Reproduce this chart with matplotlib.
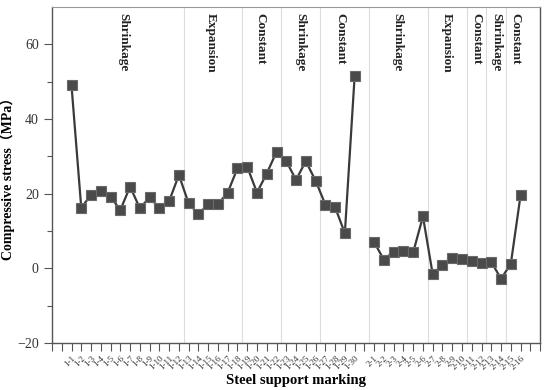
import numpy as np
import matplotlib
matplotlib.use("Agg")
import matplotlib.pyplot as plt

plt.rcParams['font.family'] = ['Liberation Serif', 'Noto Sans CJK SC', 'DejaVu Sans']

# group 1 (1-1 ... 1-30) and group 2 (2-1 ... 2-16)
labels_1 = ["1-%d" % k for k in range(1, 31)]
labels_2 = ["2-%d" % k for k in range(1, 17)]
stress_1 = [49.0, 16.2, 19.7, 20.6, 19.2, 15.6, 21.9, 16.1, 19.0, 16.1,
            18.0, 25.0, 17.4, 14.5, 17.2, 17.2, 20.3, 26.8, 27.2, 20.3,
            25.4, 31.2, 28.7, 23.7, 28.7, 23.5, 17.1, 16.4, 9.4, 51.4]
stress_2 = [7.0, 2.3, 4.5, 4.7, 4.3, 13.9, -1.6, 1.0, 2.7, 2.6,
            2.1, 1.3, 1.7, -2.8, 1.2, 19.6]

# phase boundaries (between tick slots) and phase names
boundaries = [12.5, 18.5, 22.5, 26.5, 31.5, 37.5, 41.5, 43.5, 45.5]
phase_names = ["Shrinkage", "Expansion", "Constant", "Shrinkage", "Constant",
               "Shrinkage", "Expansion", "Constant", "Shrinkage", "Constant"]
phase_pos = [6.3, 15.3, 20.3, 24.4, 28.5, 34.4, 39.4, 42.45, 44.5, 46.5]

# slot layout: blank, group 1, blank, group 2, blank
x1 = np.arange(1, 1 + len(stress_1))
x2 = np.arange(x1[-1] + 2, x1[-1] + 2 + len(stress_2))
tick_pos = np.arange(-1, 50)
tick_lab = [""] * len(tick_pos)
for x, lab in zip(x1, labels_1):
    tick_lab[x + 1] = lab
for x, lab in zip(x2, labels_2):
    tick_lab[x + 1] = lab

fig = plt.figure(figsize=(5.5, 3.9), dpi=100)
ax = fig.add_axes([0.0945, 0.1205, 0.8875, 0.8615])

for b in boundaries:
    ax.axvline(b, color="#dcdcdc", lw=0.8, zorder=0)

style = dict(color="#3a3a3a", lw=1.6, marker="s", markersize=6.5,
             markerfacecolor="#4a4a4a", markeredgecolor="#6a6a6a", markeredgewidth=0.8)
ax.plot(x1, stress_1, **style)
ax.plot(x2, stress_2, **style)

for name, xp in zip(phase_names, phase_pos):
    ax.text(xp, 68.5, name, rotation=270, ha="center", va="top",
            fontsize=9.5, fontweight="bold", color="#222222")

ax.set_xlim(-1, 49)
ax.set_ylim(-20, 70)
ax.set_yticks([-20, 0, 20, 40, 60])
ax.set_yticks([-10, 10, 30, 50], minor=True)
ax.set_xticks(tick_pos)
ax.set_xticklabels(tick_lab, rotation=45, ha="right", rotation_mode="anchor",
                   fontsize=6.5, color="#333333")
ax.tick_params(axis="x", direction="out", length=6, width=0.8, color="#555555", pad=2)
ax.tick_params(axis="y", which="major", direction="out", length=6, width=0.8,
               color="#555555", labelsize=10, labelcolor="#333333")
ax.tick_params(axis="y", which="minor", direction="out", length=3.5, width=0.8, color="#555555")

for side in ["left", "bottom", "right"]:
    ax.spines[side].set_color("#555555")
    ax.spines[side].set_linewidth(1.0)
ax.spines["top"].set_color("#999999")
ax.spines["top"].set_linewidth(0.8)

ax.set_ylabel("Compressive stress（MPa）", fontsize=10, fontweight="bold")
ax.yaxis.set_label_coords(-0.075, 0.5)
ax.set_xlabel("Steel support marking", fontsize=10.5, fontweight="bold", labelpad=2)

fig.savefig("out.png", dpi=100)
